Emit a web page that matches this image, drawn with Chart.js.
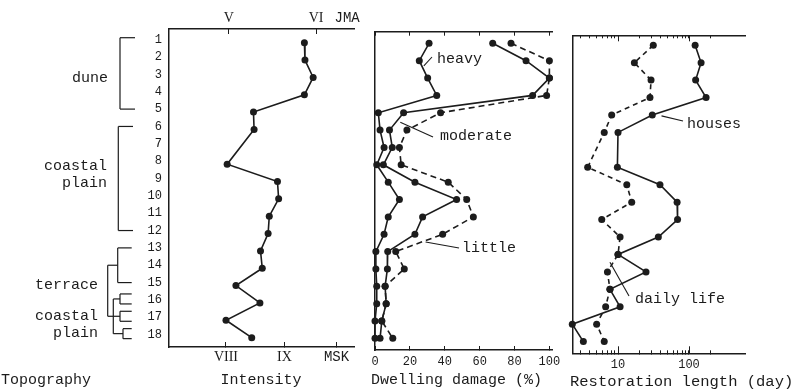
<!DOCTYPE html>
<html><head><meta charset="utf-8">
<script src="https://cdn.jsdelivr.net/npm/chart.js@4/dist/chart.umd.min.js"></script>
<style>
html,body{margin:0;padding:0;background:#fff;width:796px;height:389px;overflow:hidden}
#wrap{position:relative;width:796px;height:389px;background:#fff}
canvas{position:absolute;top:0}
</style></head>
<body>
<div id="wrap">
<canvas id="c1" width="362" height="389" style="left:0px;width:362px;height:389px"></canvas>
<canvas id="c2" width="198" height="389" style="left:362px;width:198px;height:389px"></canvas>
<canvas id="c3" width="236" height="389" style="left:560px;width:236px;height:389px"></canvas>
</div>
<script>
// ---------- data ----------
const rows = [1,2,3,4,5,6,7,8,9,10,11,12,13,14,15,16,17,18];
// seismic intensity (MSK units); row 7 not observed
const intensityMSK = [9.34,9.35,9.49,9.34,8.47,8.48,null,8.02,8.88,8.90,8.74,8.72,8.59,8.62,8.17,8.58,8.00,8.44];
// dwelling damage (%), cumulative
const damageHeavy    = [31,25.4,30.2,35.4,1.9,2.9,5.2,1,7.6,14,7.6,5.2,0.5,0.5,1,1,0,0];
const damageModerate = [67.5,86.6,100,90.4,16.4,8.3,9.9,4.8,22.9,46.8,27.3,22.9,7.3,7.1,5.8,6.4,3.9,2.9];
const damageLittle   = [78,100,100,98.4,37.6,18.3,14,15,42,52.6,56.4,38.8,11.9,16.8,5.8,6.4,3.9,10.2];
// restoration length (days); row 7 not observed
const restHouses = [122,148,124,174,30.4,10,null,9.8,39,68,69,37,10,24.8,7.7,10.7,2.27,3.25];
const restDaily  = [31.4,17,29.2,28.2,8.15,6.4,null,3.74,13.3,15.6,5.9,10.7,10,7.1,7.7,6.7,5.0,6.4];
// tick labels
const mskTickValues = [8, 9, 9.89];
const mskTickLabels = ['VIII', 'IX', 'MSK'];
const jmaTickValues = [8.05, 9.54, 10.07];
const jmaTickLabels = ['V', 'VI', 'JMA'];
const damageTicks = [0, 20, 40, 60, 80, 100];
const restTicks = [3,4,5,6,7,8,9,10,20,30,40,50,60,70,80,90,100,200];
const restLabels = [10, 100];
// topography groups (rows)
const topoGroups = [
  {label:['dune'], from:1, to:5},
  {label:['coastal','plain'], from:6, to:12},
  {label:['terrace'], from:13, to:15}
];
const topoSingles = [16, 17, 18];

// ---------- style ----------
const INK = '#1c1c1c';
const MONO = 'Liberation Mono, DejaVu Sans Mono, monospace';
const SERIF = 'Liberation Serif, DejaVu Serif, serif';

function pts(vals){
  return rows.map((r,i)=>({x:vals[i], y:r})).filter(p=>p.x!==null);
}
function ds(vals, dash){
  return {data:pts(vals), showLine:true, borderColor:INK, backgroundColor:INK,
    borderWidth:1.6, borderDash:dash||[], pointRadius:3.5, pointBorderWidth:0,
    pointBackgroundColor:INK, clip:false, tension:0};
}
function fixFit(h){ return s=>{ s.height=h; s.paddingLeft=0; s.paddingRight=0; }; }
function fixFitY(w){ return s=>{ s.width=w; s.paddingTop=0; s.paddingBottom=0; }; }
const noGridY = {display:false, drawTicks:false};
const inGrid = len => ({drawOnChartArea:false, drawTicks:true, tickLength:len, color:INK, lineWidth:1});
const bord = {display:true, color:INK, width:1.5};

function textPlugin(offsetX, items, leaders){
  return {id:'txt'+offsetX, afterDraw(chart){
    const ctx = chart.ctx;
    ctx.save();
    ctx.translate(-offsetX, 0);
    ctx.fillStyle = INK; ctx.strokeStyle = INK; ctx.lineWidth = 1.1;
    ctx.textBaseline = 'middle';
    items.forEach(t=>{
      ctx.font = (t.size||15)+'px '+MONO;
      ctx.textAlign = t.align||'left';
      ctx.fillText(t.text, t.x, t.y);
    });
    (leaders||[]).forEach(l=>{
      const ex = chart.scales.x.getPixelForValue(l.to.x) + offsetX;
      const ey = chart.scales.y.getPixelForValue(l.to.y);
      ctx.beginPath(); ctx.moveTo(l.from[0], l.from[1]); ctx.lineTo(ex, ey); ctx.stroke();
    });
    ctx.restore();
  }};
}

const topoPlugin = {id:'topo', afterDraw(chart){
  const ctx = chart.ctx, y = chart.scales.y;
  const ry = r => y.getPixelForValue(r) - 3;
  const cy = r => y.getPixelForValue(r) - 4;
  ctx.save(); ctx.strokeStyle = INK; ctx.lineWidth = 1.2;
  const seg = (x1,y1,x2,y2)=>{ctx.beginPath();ctx.moveTo(x1,y1);ctx.lineTo(x2,y2);ctx.stroke();};
  const bx = [120, 118.3, 117.7], ex = [135, 133, 131.7];
  topoGroups.forEach((g,i)=>{
    const a = ry(g.from) - (i===0 ? 2 : 0), b = ry(g.to);
    seg(bx[i],a,ex[i],a); seg(bx[i],a,bx[i],b); seg(bx[i],b,ex[i],b);
  });
  topoSingles.forEach(r=>{
    const c = cy(r), x0 = r===18 ? 123 : 120;
    seg(x0,c-5,131.7,c-5); seg(x0,c-5,x0,c+5); seg(x0,c+5,131.7,c+5);
  });
  // connectors
  const tm = ry(14), c16 = cy(16), c17 = cy(17), c18 = cy(18);
  seg(107.7,tm,117.7,tm); seg(107.7,tm,107.7,c17); seg(107.7,c17,120,c17);
  seg(113.3,c16,113.3,c18); seg(113.3,c16,120,c16); seg(113.3,c18,123,c18);
  ctx.restore();
}};

const baseOpts = {
  responsive:false, animation:false, devicePixelRatio:1,
  plugins:{legend:{display:false}, tooltip:{enabled:false}, title:{display:false}},
  events:[]
};

// ---------- chart 1 : intensity ----------
new Chart(document.getElementById('c1'), {
  type:'scatter',
  data:{datasets:[ds(intensityMSK)]},
  options:Object.assign({}, baseOpts, {
    layout:{padding:{left:0,right:8,top:0,bottom:0}},
    scales:{
      x:{type:'linear', position:'bottom', min:7.026, max:10.188,
        afterBuildTicks:s=>{s.ticks = mskTickValues.map(v=>({value:v}));},
        ticks:{autoSkip:false, maxRotation:0, padding:7, color:INK,
          callback:(v,i)=>mskTickLabels[i],
          font:c=> (c.index===2 ? {family:MONO,size:14} : {family:SERIF,size:14})},
        grid:inGrid(-5), border:bord, afterFit:fixFit(42)},
      x2:{type:'linear', position:'top', min:7.026, max:10.188,
        afterBuildTicks:s=>{s.ticks = jmaTickValues.map(v=>({value:v}));},
        ticks:{autoSkip:false, maxRotation:0, padding:7, color:INK,
          callback:(v,i)=>jmaTickLabels[i],
          font:c=> (c.index===2 ? {family:MONO,size:14} : {family:SERIF,size:14})},
        grid:Object.assign(inGrid(-5), {tickColor:c=> c.index===2 ? 'rgba(0,0,0,0)' : INK}),
        border:bord, afterFit:fixFit(29)},
      y:{type:'linear', reverse:true, min:0.21, max:18.54,
        afterBuildTicks:s=>{s.ticks = rows.map(v=>({value:v}));},
        ticks:{autoSkip:false, padding:7, labelOffset:-3, color:INK, font:{family:MONO,size:12},
          callback:v=>String(v)},
        grid:noGridY, border:bord, afterFit:fixFitY(169)}
    }
  }),
  plugins:[topoPlugin, textPlugin(0, [
    {text:'dune', x:108, y:78, align:'right'},
    {text:'coastal', x:107, y:166, align:'right'},
    {text:'plain', x:107, y:183, align:'right'},
    {text:'terrace', x:98, y:285, align:'right'},
    {text:'coastal', x:98, y:316, align:'right'},
    {text:'plain', x:98, y:333, align:'right'},
    {text:'Topography', x:1, y:380},
    {text:'Intensity', x:261, y:380, align:'center'}
  ])]
});

// ---------- chart 2 : dwelling damage ----------
new Chart(document.getElementById('c2'), {
  type:'scatter',
  data:{datasets:[ds(damageHeavy), ds(damageModerate), ds(damageLittle,[6,4])]},
  options:Object.assign({}, baseOpts, {
    layout:{padding:{left:0,right:8,top:0,bottom:0}},
    scales:{
      x:{type:'linear', position:'bottom', min:0, max:101.5,
        afterBuildTicks:s=>{s.ticks = damageTicks.map(v=>({value:v}));},
        ticks:{autoSkip:false, maxRotation:0, padding:9, color:INK, font:{family:MONO,size:12},
          callback:v=>String(v)},
        grid:inGrid(-4), border:bord, afterFit:fixFit(39)},
      x2:{type:'linear', position:'top', min:0, max:101.5,
        afterBuildTicks:s=>{s.ticks = damageTicks.map(v=>({value:v}));},
        ticks:{display:false},
        grid:inGrid(-4), border:bord, afterFit:fixFit(31.7)},
      y:{type:'linear', reverse:true, min:0.33, max:18.67,
        ticks:{display:false}, grid:noGridY, border:bord, afterFit:fixFitY(13)}
    }
  }),
  plugins:[textPlugin(362, [
    {text:'heavy', x:437, y:59},
    {text:'moderate', x:440, y:136},
    {text:'little', x:462, y:248},
    {text:'Dwelling damage (%)', x:371, y:380}
  ], [
    {from:[432,57], to:{x:28, y:2.3}},
    {from:[433,137], to:{x:14.5, y:5.55}},
    {from:[459,248], to:{x:29, y:12.45}}
  ])]
});

// ---------- chart 3 : restoration length ----------
const majorTickPlugin = {id:'major', afterDraw(chart){
  const ctx = chart.ctx, x = chart.scales.x, a = chart.chartArea;
  ctx.save(); ctx.strokeStyle = INK; ctx.lineWidth = 1;
  restLabels.forEach(v=>{
    const px = Math.round(x.getPixelForValue(v))+0.5;
    ctx.beginPath(); ctx.moveTo(px, a.bottom); ctx.lineTo(px, a.bottom-7); ctx.stroke();
    ctx.beginPath(); ctx.moveTo(px, a.top); ctx.lineTo(px, a.top+6); ctx.stroke();
  });
  ctx.restore();
}};
new Chart(document.getElementById('c3'), {
  type:'scatter',
  data:{datasets:[ds(restHouses), ds(restDaily,[5,4])]},
  options:Object.assign({}, baseOpts, {
    layout:{padding:{left:0,right:51,top:0,bottom:0}},
    scales:{
      x:{type:'logarithmic', position:'bottom', min:2.323, max:615,
        afterBuildTicks:s=>{s.ticks = restTicks.map(v=>({value:v}));},
        ticks:{autoSkip:false, maxRotation:0, padding:7, color:INK, font:{family:MONO,size:12},
          callback:v=> restLabels.includes(v) ? String(v) : ''},
        grid:inGrid(-3), border:bord, afterFit:fixFit(35.7)},
      x2:{type:'logarithmic', position:'top', min:2.323, max:615,
        afterBuildTicks:s=>{s.ticks = restTicks.map(v=>({value:v}));},
        ticks:{display:false},
        grid:inGrid(-3), border:bord, afterFit:fixFit(35.3)},
      y:{type:'linear', reverse:true, min:0.43, max:18.67,
        ticks:{display:false}, grid:noGridY, border:bord, afterFit:fixFitY(13)}
    }
  }),
  plugins:[majorTickPlugin, textPlugin(560, [
    {text:'houses', x:687, y:124},
    {text:'daily life', x:635, y:299},
    {text:'Restoration length (day)', x:570, y:382, size:15.5}
  ], [
    {from:[683,121], to:{x:41, y:5.05}},
    {from:[629,296], to:{x:7.7, y:13.45}}
  ])]
});
</script>
</body></html>
